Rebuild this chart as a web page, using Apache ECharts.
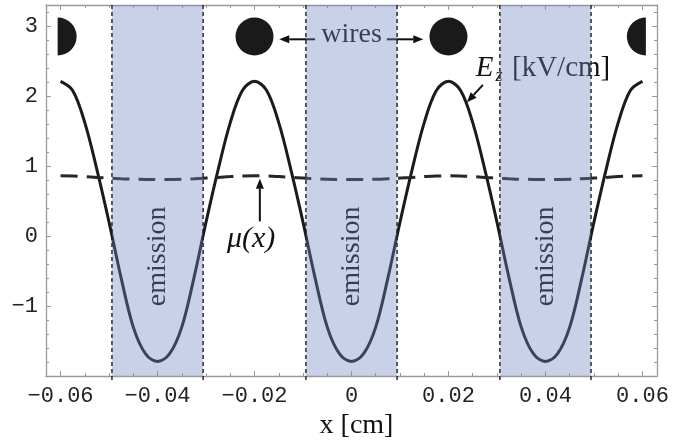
<!DOCTYPE html>
<html>
<head>
<meta charset="utf-8">
<script src="https://cdn.jsdelivr.net/npm/echarts@6/dist/echarts.min.js"></script>
<style>
html, body { margin: 0; padding: 0; background: #fff; }
#chart { width: 684px; height: 445px; }
</style>
</head>
<body>
<div id="chart"></div>
<script>
// Sample positions along x [cm]
const xs = [
  -0.06, -0.0575, -0.055, -0.0525, -0.05, -0.0475, -0.045, -0.0425, -0.04,
  -0.0375, -0.035, -0.0325, -0.03, -0.0275, -0.025, -0.0225, -0.02,
  -0.0175, -0.015, -0.0125, -0.01, -0.0075, -0.005, -0.0025, 0,
  0.0025, 0.005, 0.0075, 0.01, 0.0125, 0.015, 0.0175, 0.02,
  0.0225, 0.025, 0.0275, 0.03, 0.0325, 0.035, 0.0375, 0.04,
  0.0425, 0.045, 0.0475, 0.05, 0.0525, 0.055, 0.0575, 0.06
];

// Axial field E_z [kV/cm]
const ez = [
  2.21, 2.08, 1.62, 0.95, 0.20, -0.60, -1.30, -1.68, -1.79,
  -1.68, -1.30, -0.60, 0.20, 0.95, 1.62, 2.08, 2.21,
  2.08, 1.62, 0.95, 0.20, -0.60, -1.30, -1.68, -1.79,
  -1.68, -1.30, -0.60, 0.20, 0.95, 1.62, 2.08, 2.21,
  2.08, 1.62, 0.95, 0.20, -0.60, -1.30, -1.68, -1.79,
  -1.68, -1.30, -0.60, 0.20, 0.95, 1.62, 2.08, 2.21
];

// Mobility-like profile mu(x)
const mu = [
  0.860, 0.857, 0.849, 0.838, 0.828, 0.819, 0.812, 0.809, 0.808,
  0.809, 0.812, 0.819, 0.828, 0.838, 0.849, 0.857, 0.860,
  0.857, 0.849, 0.838, 0.828, 0.819, 0.812, 0.809, 0.808,
  0.809, 0.812, 0.819, 0.828, 0.838, 0.849, 0.857, 0.860,
  0.857, 0.849, 0.838, 0.828, 0.819, 0.812, 0.809, 0.808,
  0.809, 0.812, 0.819, 0.828, 0.838, 0.849, 0.857, 0.860
];

// Emission zones [from, to] in cm
const emissionZones = [[-0.0494, -0.0306], [-0.0094, 0.0094], [0.0306, 0.0494]];
const emissionCenters = [-0.04, 0, 0.04];

// Wire cross-sections: x [cm], height on the plot, shape (0 full, 1 right half, 2 left half)
const wireX = [-0.0606, -0.02, 0.02, 0.0607];
const wireY = [2.85, 2.85, 2.85, 2.85];
const wireShape = [1, 0, 0, 2];

// Axis ticks and labels
const X_MIN = -0.063, X_MAX = 0.063, Y_MIN = -2, Y_MAX = 3.3;
const xTicks = [-0.06, -0.04, -0.02, 0, 0.02, 0.04, 0.06];
const xTickLabels = ['\u22120.06', '\u22120.04', '\u22120.02', '0', '0.02', '0.04', '0.06'];
const xMinorTicks = [-0.055, -0.05, -0.045, -0.035, -0.03, -0.025, -0.015, -0.01, -0.005,
  0.005, 0.01, 0.015, 0.025, 0.03, 0.035, 0.045, 0.05, 0.055];
const yTicks = [-2, -1, 0, 1, 2, 3];
const yLabelValues = [-1, 0, 1, 2, 3];
const yTickLabels = ['\u22121', '0', '1', '2', '3'];
const yMinorTicks = [-1.8, -1.6, -1.4, -1.2, -0.8, -0.6, -0.4, -0.2, 0.2, 0.4, 0.6, 0.8,
  1.2, 1.4, 1.6, 1.8, 2.2, 2.4, 2.6, 2.8, 3.2];

const FRAME = '#9a9a9a';
const SERIF = '"Liberation Serif", "Times New Roman", serif';
const MONO = '"Liberation Mono", "Courier New", monospace';

function xAxisDef(position, ticks, len, withLabels) {
  return {
    type: 'value', min: X_MIN, max: X_MAX, position: position,
    axisLine: { show: withLabels !== null, onZero: false, lineStyle: { color: FRAME, width: 1.3 } },
    axisTick: { show: true, inside: true, length: len, customValues: ticks, lineStyle: { color: FRAME, width: 1 } },
    axisLabel: withLabels ? {
      show: true, customValues: xTicks, margin: 9,
      fontFamily: MONO, fontSize: 22, color: '#222',
      formatter: v => xTickLabels[xTicks.findIndex(t => Math.abs(t - v) < 1e-9)]
    } : { show: false },
    splitLine: { show: false }
  };
}
function yAxisDef(position, ticks, len, withLabels) {
  return {
    type: 'value', min: Y_MIN, max: Y_MAX, position: position,
    axisLine: { show: withLabels !== null, onZero: false, lineStyle: { color: FRAME, width: 1.3 } },
    axisTick: { show: true, inside: true, length: len, customValues: ticks, lineStyle: { color: FRAME, width: 1 } },
    axisLabel: withLabels ? {
      show: true, customValues: yLabelValues, margin: 8,
      fontFamily: MONO, fontSize: 22, color: '#222',
      formatter: v => yTickLabels[yLabelValues.findIndex(t => Math.abs(t - v) < 1e-9)]
    } : { show: false },
    splitLine: { show: false }
  };
}

const xBottom = xAxisDef('bottom', xTicks, 5, true);
xBottom.name = 'x [cm]';
xBottom.nameLocation = 'middle';
xBottom.nameGap = 28;
xBottom.nameTextStyle = { fontFamily: SERIF, fontSize: 28, color: '#111', padding: [0, 0, 0, 10] };

const chart = echarts.init(document.getElementById('chart'), null, { renderer: 'canvas' });

chart.setOption({
  animation: false,
  backgroundColor: '#fff',
  grid: { left: 46, right: 27, top: 5, bottom: 62, containLabel: false },
  xAxis: [
    xBottom,
    xAxisDef('top', xTicks, 5, false),
    xAxisDef('bottom', xMinorTicks, 3, null),
    xAxisDef('top', xMinorTicks, 3, null)
  ],
  yAxis: [
    yAxisDef('left', yTicks, 5, true),
    yAxisDef('right', yTicks, 5, false),
    yAxisDef('left', yMinorTicks, 3, null),
    yAxisDef('right', yMinorTicks, 3, null)
  ],
  series: [
    {
      name: 'Ez', type: 'line', z: 3, smooth: 0.35, symbol: 'none',
      data: xs.map((x, i) => [x, ez[i]]),
      lineStyle: { color: '#1b1b1b', width: 3 }
    },
    {
      name: 'mu', type: 'line', z: 3, smooth: true, symbol: 'none',
      data: xs.map((x, i) => [x, mu[i]]),
      lineStyle: { color: '#262626', width: 3, type: [17, 9] }
    },
    {
      name: 'wires', type: 'custom', z: 4, silent: true,
      data: wireX.map((x, i) => [x, wireY[i], wireShape[i]]),
      renderItem: function (params, api) {
        const c = api.coord([api.value(0), api.value(1)]);
        const kind = api.value(2);
        const r = 19;
        if (kind === 0) {
          return { type: 'circle', shape: { cx: c[0], cy: c[1], r: r }, style: { fill: '#1a1a1a' } };
        }
        const a0 = kind === 1 ? -Math.PI / 2 : Math.PI / 2;
        return {
          type: 'sector',
          shape: { cx: c[0], cy: c[1], r0: 0, r: r, startAngle: a0, endAngle: a0 + Math.PI, clockwise: true },
          style: { fill: '#1a1a1a' }
        };
      }
    },
    {
      name: 'emission', type: 'custom', z: 10, silent: true, clip: false,
      data: emissionZones.map(z => [z[0], z[1]]),
      renderItem: function (params, api) {
        const pTop = api.coord([api.value(0), Y_MAX]);
        const pBot = api.coord([api.value(1), Y_MIN]);
        const edge = x => ({
          type: 'line',
          shape: { x1: x, y1: pTop[1], x2: x, y2: pBot[1] + 5 },
          style: { stroke: '#1e1e1e', lineWidth: 1.4, lineDash: [4, 3] }
        });
        return {
          type: 'group',
          children: [
            {
              type: 'rect',
              shape: { x: pTop[0], y: pTop[1], width: pBot[0] - pTop[0], height: pBot[1] - pTop[1] },
              style: { fill: 'rgba(110,135,195,0.38)' }
            },
            edge(pTop[0]),
            edge(pBot[0])
          ]
        };
      }
    }
  ]
});

// Annotations placed in data coordinates
const toPx = (x, y) => chart.convertToPixel({ xAxisIndex: 0, yAxisIndex: 0 }, [x, y]);

const labels = [
  { text: 'wires', at: [0.0, 2.87], size: 28, italic: false, align: 'center' },
  { text: 'E', at: [0.0256, 2.40], size: 29, italic: true, align: 'left' },
  { text: 'z', at: [0.0297, 2.28], size: 18, italic: true, align: 'left' },
  { text: '[kV/cm]', at: [0.0331, 2.40], size: 29, italic: false, align: 'left' },
  { text: '\u03bc(x)', at: [-0.0207, -0.04], size: 30, italic: true, align: 'center' }
];
const arrows = [
  { from: [-0.0075, 2.81], to: [-0.0149, 2.81] },
  { from: [0.0073, 2.81], to: [0.0148, 2.81] },
  { from: [0.0271, 2.16], to: [0.0238, 1.91] },
  { from: [-0.0189, 0.21], to: [-0.0189, 0.82] }
];

const elements = [];
labels.forEach(l => {
  const p = toPx(l.at[0], l.at[1]);
  elements.push({
    type: 'text', x: p[0], y: p[1], z: 5, silent: true,
    style: {
      text: l.text, fill: '#111', align: l.align, verticalAlign: 'middle',
      font: (l.italic ? 'italic ' : '') + l.size + 'px ' + SERIF
    }
  });
});
emissionCenters.forEach(cx => {
  const p = toPx(cx, -0.29);
  elements.push({
    type: 'text', x: p[0], y: p[1], rotation: Math.PI / 2, z: 5, silent: true,
    style: { text: 'emission', fill: '#111', align: 'center', verticalAlign: 'middle', font: '28px ' + SERIF }
  });
});
arrows.forEach(a => {
  const p0 = toPx(a.from[0], a.from[1]);
  const p1 = toPx(a.to[0], a.to[1]);
  const dx = p1[0] - p0[0], dy = p1[1] - p0[1];
  const len = Math.sqrt(dx * dx + dy * dy);
  const ux = dx / len, uy = dy / len;
  const head = 10, half = 4;
  const bx = p1[0] - ux * head, by = p1[1] - uy * head;
  elements.push({
    type: 'line', z: 5, silent: true,
    shape: { x1: p0[0], y1: p0[1], x2: bx, y2: by },
    style: { stroke: '#111', lineWidth: 2 }
  });
  elements.push({
    type: 'polygon', z: 5, silent: true,
    shape: { points: [[p1[0], p1[1]], [bx - uy * half, by + ux * half], [bx + uy * half, by - ux * half]] },
    style: { fill: '#111' }
  });
});

chart.setOption({ graphic: { elements: elements } });
</script>
</body>
</html>
